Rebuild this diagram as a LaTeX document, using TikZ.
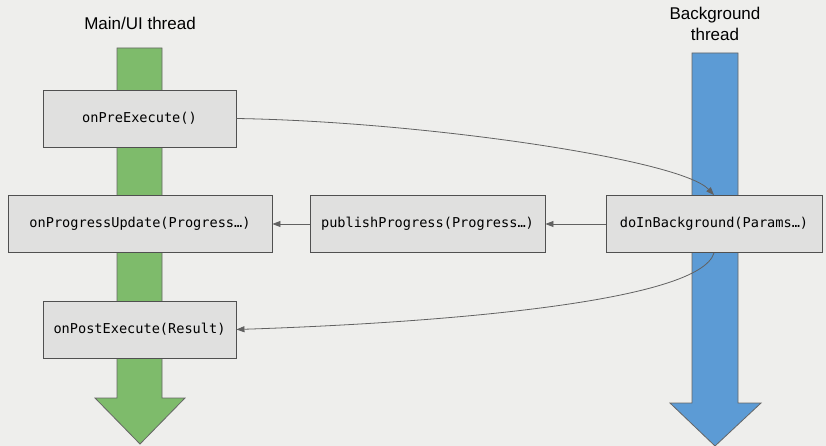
\documentclass[tikz,border=0pt]{standalone}
\usepackage{fontspec}
\setmainfont{Liberation Sans}
\newfontfamily\codefont{DejaVu Sans Mono}
\usetikzlibrary{arrows.meta}

\definecolor{paper}{RGB}{238,238,236}
\definecolor{boxgray}{RGB}{224,224,223}
\definecolor{edgegray}{RGB}{80,80,80}
\definecolor{uigreen}{RGB}{126,187,107}
\definecolor{bgblue}{RGB}{92,155,213}

\tikzset{
  callbox/.style={draw=edgegray, line width=0.9pt, fill=boxgray, inner sep=0pt,
    minimum height=57pt, font=\codefont\fontsize{13.6}{16}\selectfont},
  callarrow/.style={draw=edgegray!90, line width=0.8pt, -{Triangle[length=8pt,width=6pt]}},
  threadbar/.style={draw=gray!80!black, line width=0.8pt},
  threadlabel/.style={font=\fontsize{17}{20}\selectfont, align=center}
}

\begin{document}
\begin{tikzpicture}[x=1pt, y=-1pt]
			\fill[paper] (0,0) rectangle (826,446);
			\useasboundingbox (0,0) rectangle (826,446);

			% thread arrows
			\draw[threadbar, fill=uigreen]
			(117,48) -- (162,48) -- (162,398) -- (185,398) -- (140,444)
			-- (95,398) -- (117,398) -- cycle;
			\draw[threadbar, fill=bgblue]
			(692,53) -- (738,53) -- (738,403) -- (761,403) -- (715,446)
			-- (670,403) -- (692,403) -- cycle;

			\node[threadlabel] (mainlbl) at (140,23) {Main/UI thread};
			\node[threadlabel, font=\fontsize{17}{21}\selectfont] (bglbl) at (715,24) {Background\\thread};

			% calls
			\node[callbox, minimum width=193pt] (pre) at (139.5,118.5) {onPreExecute()};
			\node[callbox, minimum width=264pt] (update) at (140,224) {onProgressUpdate(Progress…)};
			\node[callbox, minimum width=235pt] (publish) at (427.5,224) {publishProgress(Progress…)};
			\node[callbox, minimum width=216pt] (work) at (714,224) {doInBackground(Params…)};
			\node[callbox, minimum width=193pt] (post) at (139.5,329.5) {onPostExecute(Result)};

			\draw[callarrow] (pre.east) .. controls +(184,3) and +(-34,-36) .. (work.north);
			\draw[callarrow] (work.west) -- (publish.east);
			\draw[callarrow] (publish.west) -- (update.east);
			\draw[callarrow] (work.south) .. controls +(-14,48) and +(214,-7) .. (post.east);
		\end{tikzpicture}
\end{document}
